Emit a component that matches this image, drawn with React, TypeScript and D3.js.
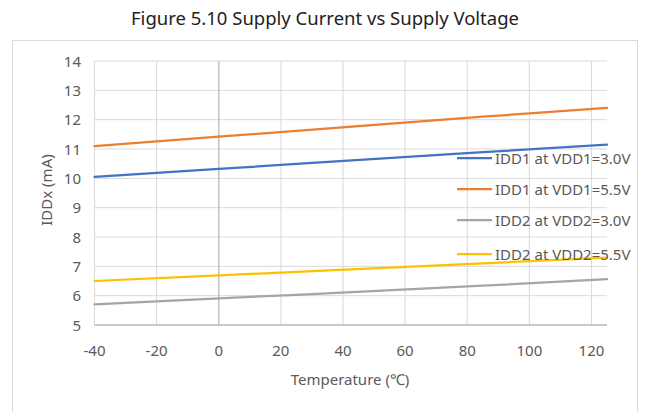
import React from "react";
import * as d3 from "d3";

const temps = [-40, 0, 25, 85, 125];
const idd1At30 = [10.05, 10.32, 10.49, 10.89, 11.15];
const idd1At55 = [11.1, 11.42, 11.62, 12.1, 12.4];
const idd2At30 = [5.7, 5.91, 6.03, 6.34, 6.56];
const idd2At55 = [6.5, 6.69, 6.81, 7.1, 7.3];
const seriesNames = ["IDD1 at VDD1=3.0V", "IDD1 at VDD1=5.5V", "IDD2 at VDD2=3.0V", "IDD2 at VDD2=5.5V"];
const seriesColors = ["#4472C4", "#ED7D31", "#A5A5A5", "#FFC000"];
const xTicks = [-40, -20, 0, 20, 40, 60, 80, 100, 120];
const yTicks = [5, 6, 7, 8, 9, 10, 11, 12, 13, 14];

const W = 648;
const H = 412;
const FONT = "'Noto Sans', 'Open Sans', sans-serif";

export default function App() {
  const x = d3.scaleLinear().domain([-40, 125]).range([94.5, 607]);
  const y = d3.scaleLinear().domain([5, 14]).range([325, 61]);
  const seriesValues = [idd1At30, idd1At55, idd2At30, idd2At55];
  const line = d3
    .line<[number, number]>()
    .x((d) => x(d[0]))
    .y((d) => y(d[1]));

  const legendX = 457;
  const legendYs = [158, 189, 220, 254];

  return (
    <svg width={W} height={H} style={{ position: "absolute", left: 0, top: 0, background: "#fff" }}>
      <rect x={0} y={0} width={W} height={H} fill="#fff" />
      <text x={325} y={25} textAnchor="middle" fontFamily={FONT} fontSize={18.5} fill="#222">
        Figure 5.10 Supply Current vs Supply Voltage
      </text>
      <rect x={12.5} y={40.5} width={625} height={400} fill="none" stroke="#d9d9d9" />

      {/* gridlines */}
      {yTicks.map((t) => (
        <line key={"gy" + t} x1={x(-40)} x2={x(125)} y1={y(t)} y2={y(t)} stroke="#d9d9d9" strokeWidth={1} />
      ))}
      {xTicks.map((t) => (
        <line key={"gx" + t} x1={x(t)} x2={x(t)} y1={y(14)} y2={y(5)} stroke="#d9d9d9" strokeWidth={1} />
      ))}
      {/* axes */}
      <line x1={x(0)} x2={x(0)} y1={y(14)} y2={y(5)} stroke="#bfbfbf" strokeWidth={1.3} />
      <line x1={x(-40)} x2={x(125)} y1={y(5)} y2={y(5)} stroke="#bfbfbf" strokeWidth={1.3} />

      {/* tick labels */}
      {yTicks.map((t) => (
        <text key={"ty" + t} x={81} y={y(t) + 5.5} textAnchor="end" fontFamily={FONT} fontSize={15} fill="#595959">
          {t}
        </text>
      ))}
      {xTicks.map((t) => (
        <text key={"tx" + t} x={x(t)} y={356} textAnchor="middle" fontFamily={FONT} fontSize={15} fill="#595959">
          {t}
        </text>
      ))}
      <text x={350} y={385} textAnchor="middle" fontFamily={FONT} fontSize={15} fill="#595959">
        Temperature (℃)
      </text>
      <text
        transform={`translate(52,190) rotate(-90)`}
        textAnchor="middle"
        fontFamily={FONT}
        fontSize={15}
        fill="#595959"
      >
        IDDx (mA)
      </text>

      {/* series */}
      {seriesValues.map((vals, i) => (
        <path
          key={"s" + i}
          d={line(temps.map((t, j) => [t, vals[j]] as [number, number])) || ""}
          fill="none"
          stroke={seriesColors[i]}
          strokeWidth={2.25}
          strokeLinecap="round"
        />
      ))}

      {/* legend */}
      {seriesNames.map((name, i) => (
        <g key={"l" + i}>
          <line x1={legendX} x2={legendX + 35} y1={legendYs[i]} y2={legendYs[i]} stroke={seriesColors[i]} strokeWidth={2.25} />
          <text x={legendX + 38} y={legendYs[i] + 5.5} fontFamily={FONT} fontSize={15} fill="#595959">
            {name}
          </text>
        </g>
      ))}
    </svg>
  );
}
